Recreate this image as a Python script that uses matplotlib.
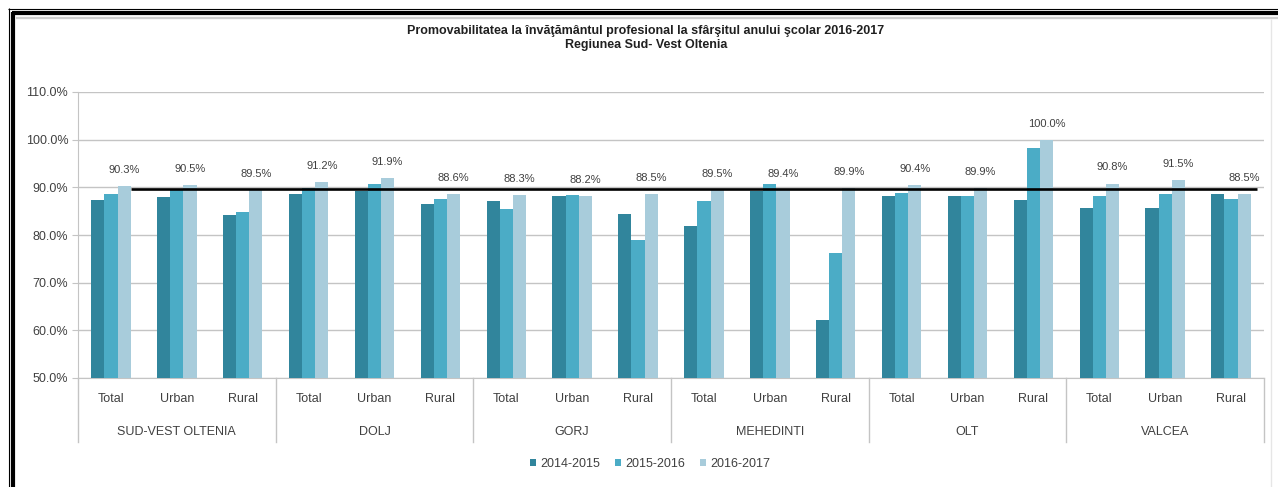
import matplotlib
matplotlib.use("Agg")
import matplotlib.pyplot as plt
from matplotlib.lines import Line2D
from matplotlib.patches import Patch
import numpy as np

# ---------------- data ----------------
groups = ["SUD-VEST OLTENIA", "DOLJ", "GORJ", "MEHEDINTI", "OLT", "VALCEA"]
subcats = ["Total", "Urban", "Rural"]
series_names = ["2014-2015", "2015-2016", "2016-2017"]
s2014 = [87.3, 88.0, 84.1, 88.5, 89.2, 86.6, 87.1, 88.1, 84.5, 81.8, 89.3, 62.2, 88.1, 88.1, 87.4, 85.7, 85.7, 88.6]
s2015 = [88.5, 89.7, 84.8, 89.9, 90.8, 87.6, 85.5, 88.3, 79.0, 87.1, 90.7, 76.2, 88.8, 88.1, 98.3, 88.1, 88.5, 87.6]
s2016 = [90.3, 90.5, 89.5, 91.2, 91.9, 88.6, 88.3, 88.2, 88.5, 89.5, 89.4, 89.9, 90.4, 89.9, 100.0, 90.8, 91.5, 88.5]
reference_level = 89.7
yticks = [50, 60, 70, 80, 90, 100, 110]
title = "Promovabilitatea la învăţământul profesional la sfârşitul anului şcolar 2016-2017\nRegiunea Sud- Vest Oltenia"

# ---------------- style ----------------
colors = ["#31859C", "#4BACC6", "#A8CCDB"]
plt.rcParams["font.family"] = ["Liberation Sans", "DejaVu Sans"]
txt_col = "#404040"

W, H = 1278, 487
fig = plt.figure(figsize=(W / 100, H / 100), dpi=100)
fig.patch.set_facecolor("white")

L, R, T, B = 78, 1264, 92, 378
ax = fig.add_axes([L / W, 1 - B / H, (R - L) / W, (B - T) / H])

n = len(s2014)
x = np.arange(n)
bw = 0.2
for i, (vals, c, name) in enumerate(zip([s2014, s2015, s2016], colors, series_names)):
    ax.bar(x + (i - 1) * bw, vals, width=bw, color=c, label=name, zorder=3)

for xi, v in zip(x, s2016):
    ax.annotate(f"{v:.1f}%", (xi + bw, v), xytext=(0, 8), textcoords="offset points",
                ha="center", va="bottom", fontsize=8, color=txt_col)

ax.hlines(reference_level, 0.3, n - 1 + 0.4, color="black", lw=1.9, zorder=4)

ax.set_ylim(50, 110)
ax.set_xlim(-0.5, n - 0.5)
ax.set_yticks(yticks)
ax.set_yticklabels([f"{t:.1f}%" for t in yticks], fontsize=9, color=txt_col)
ax.yaxis.grid(True, color="#C4C4C4", lw=1, zorder=0)
ax.set_xticks([])
for s in ["top", "right"]:
    ax.spines[s].set_visible(False)
ax.spines["left"].set_color("#C4C4C4")
ax.spines["bottom"].set_color("#C4C4C4")
ax.tick_params(axis="y", length=4, color="#C4C4C4", pad=3)

# category labels
trans = ax.get_xaxis_transform()
axh = B - T
for xi in x:
    ax.text(xi, -21 / axh, subcats[xi % 3], transform=trans, ha="center", va="center",
            fontsize=9, color=txt_col)
for gi, g in enumerate(groups):
    ax.text(gi * 3 + 1, -54 / axh, g, transform=trans, ha="center", va="center",
            fontsize=9, color=txt_col)
for gi in range(len(groups) + 1):
    ax.add_line(Line2D([gi * 3 - 0.5] * 2, [0, -64 / axh], transform=trans,
                       color="#C4C4C4", lw=1, clip_on=False))

# title
fig.text(646 / W, 1 - 38 / H, title, ha="center", va="center", fontsize=9,
         fontweight="bold", color="#202020", linespacing=1.15)

# legend
handles = [Patch(facecolor=c, edgecolor="none") for c in colors]
fig.legend(handles, series_names, loc="center", bbox_to_anchor=(650 / W, 1 - 464 / H),
           ncol=3, frameon=False, fontsize=9, handlelength=0.5, handleheight=0.5,
           columnspacing=1.2, handletextpad=0.3, labelcolor=txt_col)

# outer frame
def fline(x0, y0, x1, y1, c, lw):
    fig.add_artist(Line2D([x0 / W, x1 / W], [1 - y0 / H, 1 - y1 / H], color=c, lw=lw,
                          transform=fig.transFigure, solid_capstyle="butt"))

fline(8.5, 8, 8.5, H, "black", 0.8)
fline(8, 8.5, W, 8.5, "black", 0.8)
fline(13, 12, 13, H, "black", 3.0)
fline(12, 13, W, 13, "black", 3.0)
fline(16, 18, W, 18, "#D0D0D0", 1.6)
fline(1271, 19, 1271, H, "#E6E6E6", 1.0)

fig.savefig("out.png", dpi=100, facecolor="white")
